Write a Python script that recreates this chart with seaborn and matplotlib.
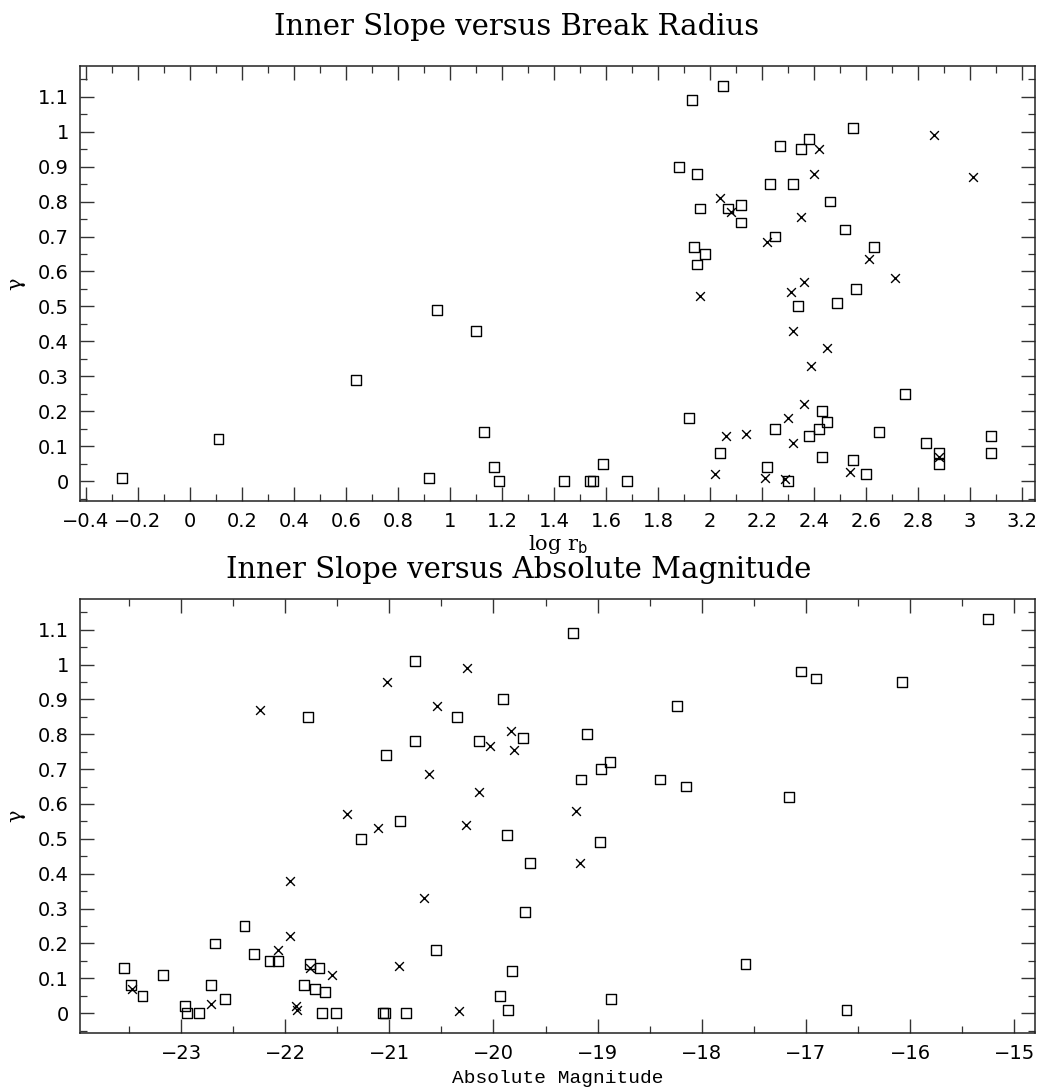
import numpy as np
import pandas as pd
import matplotlib
matplotlib.use("Agg")
import matplotlib.pyplot as plt
from matplotlib.ticker import MultipleLocator, FuncFormatter
import seaborn as sns

# ---------------- data ----------------
# Top panel: log r_b vs gamma
top_sq_logrb = [-0.26, 0.11, 0.64, 0.92, 0.95, 1.10, 1.13, 1.17, 1.19,
                1.44, 1.54, 1.55, 1.59, 1.68,
                1.88, 1.93, 2.05, 1.95, 1.96, 1.94, 1.98, 1.95, 1.92, 2.04,
                2.07, 2.12, 2.12, 2.23, 2.25, 2.22, 2.25, 2.27, 2.32, 2.35, 2.38, 2.34, 2.30,
                2.38, 2.42, 2.43, 2.45, 2.43, 2.46, 2.49, 2.52, 2.55, 2.56, 2.55, 2.60,
                2.63, 2.65, 2.75, 2.83, 2.88, 2.88, 3.08, 3.08]
top_sq_gamma = [0.01, 0.12, 0.29, 0.01, 0.49, 0.43, 0.14, 0.04, 0.00,
                0.00, 0.00, 0.00, 0.05, 0.00,
                0.90, 1.09, 1.13, 0.88, 0.78, 0.67, 0.65, 0.62, 0.18, 0.08,
                0.78, 0.79, 0.74, 0.85, 0.70, 0.04, 0.15, 0.96, 0.85, 0.95, 0.98, 0.50, 0.00,
                0.13, 0.15, 0.20, 0.17, 0.07, 0.80, 0.51, 0.72, 1.01, 0.55, 0.06, 0.02,
                0.67, 0.14, 0.25, 0.11, 0.08, 0.05, 0.13, 0.08]
top_x_logrb = [1.96, 2.04, 2.08, 2.02, 2.06, 2.14, 2.21, 2.22, 2.30, 2.29,
               2.32, 2.31, 2.36, 2.35, 2.32, 2.36, 2.39, 2.40, 2.42, 2.45,
               2.54, 2.61, 2.71, 2.86, 2.88, 3.01]
top_x_gamma = [0.53, 0.81, 0.77, 0.02, 0.13, 0.135, 0.01, 0.685, 0.18, 0.005,
               0.11, 0.54, 0.57, 0.755, 0.43, 0.22, 0.33, 0.88, 0.95, 0.38,
               0.025, 0.635, 0.58, 0.99, 0.07, 0.87]

# Bottom panel: absolute magnitude vs gamma
bot_sq_mag = [-23.55, -23.48, -23.37, -23.17, -22.96, -22.94, -22.83, -22.71, -22.67, -22.58,
              -22.39, -22.30, -22.15, -22.07, -21.76, -21.82, -21.71, -21.67, -21.62, -21.65,
              -21.51, -21.78, -21.27, -21.06, -21.04, -21.03, -20.90, -20.84, -20.75, -20.75,
              -20.55, -20.35, -20.14, -19.94, -19.91, -19.87, -19.86, -19.82,
              -19.72, -19.65, -19.70, -19.24, -19.10, -19.16, -18.97, -18.88, -18.98, -18.87,
              -18.40, -18.24, -18.15, -17.58, -17.16, -17.05, -16.90, -16.61, -16.08, -15.25]
bot_sq_gamma = [0.13, 0.08, 0.05, 0.11, 0.02, 0.00, 0.00, 0.08, 0.20, 0.04,
                0.25, 0.17, 0.15, 0.15, 0.14, 0.08, 0.07, 0.13, 0.06, 0.00,
                0.00, 0.85, 0.50, 0.00, 0.00, 0.74, 0.55, 0.00, 0.78, 1.01,
                0.18, 0.85, 0.78, 0.05, 0.90, 0.51, 0.01, 0.12,
                0.79, 0.43, 0.29, 1.09, 0.80, 0.67, 0.70, 0.72, 0.49, 0.04,
                0.67, 0.88, 0.65, 0.14, 0.62, 0.98, 0.96, 0.01, 0.95, 1.13]
bot_x_mag = [-23.47, -22.71, -22.24, -22.07, -21.95, -21.95, -21.76, -21.90, -21.89, -21.55,
             -21.41, -21.11, -21.02, -20.91, -20.67, -20.62, -20.54, -20.33, -20.26, -20.25,
             -20.14, -20.03, -19.83, -19.80, -19.21, -19.17]
bot_x_gamma = [0.07, 0.025, 0.87, 0.18, 0.38, 0.22, 0.13, 0.02, 0.01, 0.11,
               0.57, 0.53, 0.95, 0.135, 0.33, 0.685, 0.88, 0.005, 0.54, 0.99,
               0.635, 0.765, 0.81, 0.755, 0.58, 0.43]

# ---------------- style ----------------
sns.set_theme(style="white")
plt.rcParams['font.family'] = ['DejaVu Serif', 'DejaVu Sans']
plt.rcParams['axes.unicode_minus'] = True
plt.rcParams['text.color'] = 'black'
plt.rcParams['axes.labelcolor'] = 'black'
plt.rcParams['xtick.color'] = '#333333'
plt.rcParams['ytick.color'] = '#333333'
plt.rcParams['xtick.labelcolor'] = 'black'
plt.rcParams['ytick.labelcolor'] = 'black'

W, H = 1055, 1090
fig = plt.figure(figsize=(W / 100, H / 100), dpi=100)


def frac(x0, y0, x1, y1):
    return [x0 / W, 1 - y1 / H, (x1 - x0) / W, (y1 - y0) / H]


ax1 = fig.add_axes(frac(80, 66, 1035, 501))
ax2 = fig.add_axes(frac(80, 599, 1035, 1033))


def fmt(v, pos):
    v = round(v, 6)
    if v == 0:
        v = 0.0
    s = "%g" % v
    return s.replace("-", "\u2212")


def draw(ax, xs_sq, ys_sq, xs_x, ys_x):
    dsq = pd.DataFrame({"x": xs_sq, "y": ys_sq})
    dx = pd.DataFrame({"x": xs_x, "y": ys_x})
    sns.scatterplot(data=dsq, x="x", y="y", ax=ax, marker="s", s=50,
                    facecolor="none", edgecolor="black", linewidth=1.0)
    sns.scatterplot(data=dx, x="x", y="y", ax=ax, marker="x", s=40,
                    color="black", linewidth=1.0)
    for sp in ax.spines.values():
        sp.set_visible(True)
        sp.set_color("#222222")
        sp.set_linewidth(1.1)
    ax.tick_params(which="both", direction="in", top=True, right=True,
                   bottom=True, left=True)
    ax.tick_params(which="major", length=10, width=1.0, labelsize=14, pad=8)
    ax.tick_params(which="minor", length=5, width=0.9)
    ax.yaxis.set_major_locator(MultipleLocator(0.1))
    ax.yaxis.set_minor_locator(MultipleLocator(0.05))
    ax.xaxis.set_major_formatter(FuncFormatter(fmt))
    ax.yaxis.set_major_formatter(FuncFormatter(fmt))
    ax.set_ylim(-0.057, 1.188)
    ax.set_ylabel("\u03b3", fontsize=15)
    ax.yaxis.set_label_coords(-55 / 955, 0.5)


draw(ax1, top_sq_logrb, top_sq_gamma, top_x_logrb, top_x_gamma)
ax1.set_xlim(-0.423, 3.25)
ax1.xaxis.set_major_locator(MultipleLocator(0.2))
ax1.xaxis.set_minor_locator(MultipleLocator(0.1))
ax1.set_xlabel(r"log r$_\mathrm{b}$", fontsize=15, labelpad=1)

draw(ax2, bot_sq_mag, bot_sq_gamma, bot_x_mag, bot_x_gamma)
ax2.set_xlim(-23.97, -14.8)
ax2.xaxis.set_major_locator(MultipleLocator(1))
ax2.xaxis.set_minor_locator(MultipleLocator(0.5))
ax2.set_xlabel("Absolute Magnitude", fontsize=14, family="Liberation Mono", labelpad=5)

for ax in (ax1, ax2):
    for lab in ax.get_xticklabels() + ax.get_yticklabels():
        lab.set_family("DejaVu Sans")
        lab.set_fontsize(14)

fig.text(517 / W, 1 - 27 / H, "Inner Slope versus Break Radius", ha="center", va="center",
         fontsize=21, family="DejaVu Serif", fontweight="light", color="black")
fig.text(519 / W, 1 - 570 / H, "Inner Slope versus Absolute Magnitude", ha="center", va="center",
         fontsize=21, family="DejaVu Serif", fontweight="light", color="black")

fig.savefig("out.png", dpi=100)
